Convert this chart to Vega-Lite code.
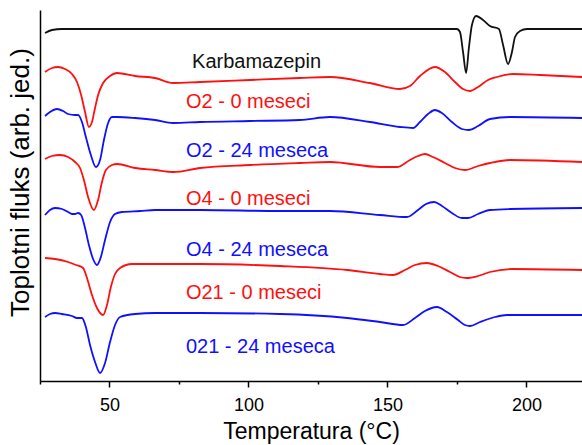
{
  "$schema": "https://vega.github.io/schema/vega-lite/v6.json",
  "width": 542,
  "height": 371,
  "autosize": {"type": "none"},
  "padding": {"left": 40, "top": 10, "right": 0, "bottom": 64},
  "background": "white",
  "config": {"view": {"stroke": null}, "font": "Liberation Sans"},
  "datasets": {
    "curves": [
      {"s": "Karbamazepin", "t": 26.8, "v": 348}, {"s": "Karbamazepin", "t": 29.3, "v": 351}, {"s": "Karbamazepin", "t": 32.9, "v": 352}, {"s": "Karbamazepin", "t": 61.0, "v": 352}, {"s": "Karbamazepin", "t": 118.5, "v": 352}, {"s": "Karbamazepin", "t": 175.0, "v": 352}, {"s": "Karbamazepin", "t": 176.1, "v": 349}, {"s": "Karbamazepin", "t": 177.2, "v": 329}, {"s": "Karbamazepin", "t": 178.3, "v": 308}, {"s": "Karbamazepin", "t": 179.3, "v": 333}, {"s": "Karbamazepin", "t": 180.4, "v": 356}, {"s": "Karbamazepin", "t": 181.9, "v": 365}, {"s": "Karbamazepin", "t": 184.4, "v": 361}, {"s": "Karbamazepin", "t": 186.9, "v": 355}, {"s": "Karbamazepin", "t": 190.1, "v": 352}, {"s": "Karbamazepin", "t": 191.6, "v": 336}, {"s": "Karbamazepin", "t": 193.4, "v": 317}, {"s": "Karbamazepin", "t": 194.8, "v": 329}, {"s": "Karbamazepin", "t": 195.9, "v": 344}, {"s": "Karbamazepin", "t": 197.7, "v": 350}, {"s": "Karbamazepin", "t": 200.2, "v": 352}, {"s": "Karbamazepin", "t": 220.0, "v": 352},

      {"s": "O2 - 0 meseci", "t": 26.8, "v": 309}, {"s": "O2 - 0 meseci", "t": 29.3, "v": 313}, {"s": "O2 - 0 meseci", "t": 31.5, "v": 314}, {"s": "O2 - 0 meseci", "t": 34.0, "v": 312}, {"s": "O2 - 0 meseci", "t": 36.5, "v": 307}, {"s": "O2 - 0 meseci", "t": 38.3, "v": 299}, {"s": "O2 - 0 meseci", "t": 39.8, "v": 286}, {"s": "O2 - 0 meseci", "t": 41.2, "v": 269}, {"s": "O2 - 0 meseci", "t": 42.6, "v": 254}, {"s": "O2 - 0 meseci", "t": 43.7, "v": 259}, {"s": "O2 - 0 meseci", "t": 44.8, "v": 273}, {"s": "O2 - 0 meseci", "t": 45.9, "v": 286}, {"s": "O2 - 0 meseci", "t": 47.7, "v": 298}, {"s": "O2 - 0 meseci", "t": 50.2, "v": 305}, {"s": "O2 - 0 meseci", "t": 52.7, "v": 308}, {"s": "O2 - 0 meseci", "t": 59.2, "v": 305}, {"s": "O2 - 0 meseci", "t": 66.4, "v": 303}, {"s": "O2 - 0 meseci", "t": 72.9, "v": 298}, {"s": "O2 - 0 meseci", "t": 82.6, "v": 299}, {"s": "O2 - 0 meseci", "t": 100.6, "v": 301}, {"s": "O2 - 0 meseci", "t": 118.5, "v": 303}, {"s": "O2 - 0 meseci", "t": 129.3, "v": 304}, {"s": "O2 - 0 meseci", "t": 143.7, "v": 298}, {"s": "O2 - 0 meseci", "t": 154.5, "v": 292}, {"s": "O2 - 0 meseci", "t": 158.1, "v": 295}, {"s": "O2 - 0 meseci", "t": 161.7, "v": 305}, {"s": "O2 - 0 meseci", "t": 167.1, "v": 314}, {"s": "O2 - 0 meseci", "t": 170.7, "v": 309}, {"s": "O2 - 0 meseci", "t": 174.3, "v": 299}, {"s": "O2 - 0 meseci", "t": 177.2, "v": 292}, {"s": "O2 - 0 meseci", "t": 179.7, "v": 290}, {"s": "O2 - 0 meseci", "t": 182.6, "v": 294}, {"s": "O2 - 0 meseci", "t": 186.2, "v": 301}, {"s": "O2 - 0 meseci", "t": 189.4, "v": 304}, {"s": "O2 - 0 meseci", "t": 195.2, "v": 307}, {"s": "O2 - 0 meseci", "t": 204.9, "v": 306}, {"s": "O2 - 0 meseci", "t": 220.0, "v": 304},

      {"s": "O2 - 24 meseca", "t": 26.8, "v": 265}, {"s": "O2 - 24 meseca", "t": 28.6, "v": 269}, {"s": "O2 - 24 meseca", "t": 31.1, "v": 272}, {"s": "O2 - 24 meseca", "t": 33.3, "v": 270}, {"s": "O2 - 24 meseca", "t": 35.1, "v": 267}, {"s": "O2 - 24 meseca", "t": 37.6, "v": 266}, {"s": "O2 - 24 meseca", "t": 38.7, "v": 266}, {"s": "O2 - 24 meseca", "t": 40.1, "v": 259}, {"s": "O2 - 24 meseca", "t": 41.5, "v": 244}, {"s": "O2 - 24 meseca", "t": 43.3, "v": 226}, {"s": "O2 - 24 meseca", "t": 45.1, "v": 214}, {"s": "O2 - 24 meseca", "t": 46.6, "v": 221}, {"s": "O2 - 24 meseca", "t": 48.0, "v": 241}, {"s": "O2 - 24 meseca", "t": 49.5, "v": 258}, {"s": "O2 - 24 meseca", "t": 50.9, "v": 264}, {"s": "O2 - 24 meseca", "t": 52.7, "v": 264}, {"s": "O2 - 24 meseca", "t": 59.2, "v": 263}, {"s": "O2 - 24 meseca", "t": 66.4, "v": 261}, {"s": "O2 - 24 meseca", "t": 72.9, "v": 258}, {"s": "O2 - 24 meseca", "t": 82.6, "v": 259}, {"s": "O2 - 24 meseca", "t": 100.6, "v": 260}, {"s": "O2 - 24 meseca", "t": 118.5, "v": 261}, {"s": "O2 - 24 meseca", "t": 129.3, "v": 264}, {"s": "O2 - 24 meseca", "t": 143.7, "v": 259}, {"s": "O2 - 24 meseca", "t": 154.5, "v": 254}, {"s": "O2 - 24 meseca", "t": 159.2, "v": 253}, {"s": "O2 - 24 meseca", "t": 161.7, "v": 259}, {"s": "O2 - 24 meseca", "t": 164.6, "v": 267}, {"s": "O2 - 24 meseca", "t": 167.1, "v": 271}, {"s": "O2 - 24 meseca", "t": 169.6, "v": 268}, {"s": "O2 - 24 meseca", "t": 173.2, "v": 259}, {"s": "O2 - 24 meseca", "t": 176.8, "v": 252}, {"s": "O2 - 24 meseca", "t": 179.3, "v": 251}, {"s": "O2 - 24 meseca", "t": 182.6, "v": 255}, {"s": "O2 - 24 meseca", "t": 186.9, "v": 262}, {"s": "O2 - 24 meseca", "t": 194.1, "v": 264}, {"s": "O2 - 24 meseca", "t": 220.0, "v": 263},

      {"s": "O4 - 0 meseci", "t": 26.8, "v": 222}, {"s": "O4 - 0 meseci", "t": 29.3, "v": 225}, {"s": "O4 - 0 meseci", "t": 32.2, "v": 226}, {"s": "O4 - 0 meseci", "t": 35.1, "v": 224}, {"s": "O4 - 0 meseci", "t": 37.6, "v": 219}, {"s": "O4 - 0 meseci", "t": 39.4, "v": 213}, {"s": "O4 - 0 meseci", "t": 40.8, "v": 201}, {"s": "O4 - 0 meseci", "t": 42.3, "v": 184}, {"s": "O4 - 0 meseci", "t": 44.4, "v": 171}, {"s": "O4 - 0 meseci", "t": 45.9, "v": 181}, {"s": "O4 - 0 meseci", "t": 47.3, "v": 199}, {"s": "O4 - 0 meseci", "t": 48.7, "v": 211}, {"s": "O4 - 0 meseci", "t": 50.9, "v": 216}, {"s": "O4 - 0 meseci", "t": 52.7, "v": 217}, {"s": "O4 - 0 meseci", "t": 59.2, "v": 213}, {"s": "O4 - 0 meseci", "t": 66.4, "v": 211}, {"s": "O4 - 0 meseci", "t": 72.9, "v": 209}, {"s": "O4 - 0 meseci", "t": 82.6, "v": 213}, {"s": "O4 - 0 meseci", "t": 100.6, "v": 216}, {"s": "O4 - 0 meseci", "t": 118.5, "v": 218}, {"s": "O4 - 0 meseci", "t": 129.3, "v": 219}, {"s": "O4 - 0 meseci", "t": 147.3, "v": 214}, {"s": "O4 - 0 meseci", "t": 153.4, "v": 214}, {"s": "O4 - 0 meseci", "t": 158.1, "v": 221}, {"s": "O4 - 0 meseci", "t": 161.0, "v": 225}, {"s": "O4 - 0 meseci", "t": 163.5, "v": 227}, {"s": "O4 - 0 meseci", "t": 166.4, "v": 224}, {"s": "O4 - 0 meseci", "t": 170.7, "v": 218}, {"s": "O4 - 0 meseci", "t": 174.3, "v": 213}, {"s": "O4 - 0 meseci", "t": 177.9, "v": 211}, {"s": "O4 - 0 meseci", "t": 182.6, "v": 215}, {"s": "O4 - 0 meseci", "t": 186.9, "v": 218}, {"s": "O4 - 0 meseci", "t": 194.1, "v": 221}, {"s": "O4 - 0 meseci", "t": 220.0, "v": 219},

      {"s": "O4 - 24 meseca", "t": 26.8, "v": 166}, {"s": "O4 - 24 meseca", "t": 28.6, "v": 171}, {"s": "O4 - 24 meseca", "t": 30.4, "v": 173}, {"s": "O4 - 24 meseca", "t": 32.9, "v": 172}, {"s": "O4 - 24 meseca", "t": 35.1, "v": 169}, {"s": "O4 - 24 meseca", "t": 36.5, "v": 167}, {"s": "O4 - 24 meseca", "t": 37.6, "v": 167}, {"s": "O4 - 24 meseca", "t": 38.7, "v": 168}, {"s": "O4 - 24 meseca", "t": 39.8, "v": 166}, {"s": "O4 - 24 meseca", "t": 41.2, "v": 153}, {"s": "O4 - 24 meseca", "t": 42.6, "v": 136}, {"s": "O4 - 24 meseca", "t": 44.1, "v": 122}, {"s": "O4 - 24 meseca", "t": 45.5, "v": 116}, {"s": "O4 - 24 meseca", "t": 46.9, "v": 124}, {"s": "O4 - 24 meseca", "t": 48.4, "v": 141}, {"s": "O4 - 24 meseca", "t": 50.2, "v": 159}, {"s": "O4 - 24 meseca", "t": 52.0, "v": 167}, {"s": "O4 - 24 meseca", "t": 54.5, "v": 169}, {"s": "O4 - 24 meseca", "t": 61.0, "v": 170}, {"s": "O4 - 24 meseca", "t": 66.4, "v": 171}, {"s": "O4 - 24 meseca", "t": 82.6, "v": 171}, {"s": "O4 - 24 meseca", "t": 111.3, "v": 170}, {"s": "O4 - 24 meseca", "t": 129.3, "v": 170}, {"s": "O4 - 24 meseca", "t": 147.3, "v": 166}, {"s": "O4 - 24 meseca", "t": 157.0, "v": 164}, {"s": "O4 - 24 meseca", "t": 161.0, "v": 171}, {"s": "O4 - 24 meseca", "t": 163.9, "v": 177}, {"s": "O4 - 24 meseca", "t": 166.8, "v": 179}, {"s": "O4 - 24 meseca", "t": 169.6, "v": 175}, {"s": "O4 - 24 meseca", "t": 173.2, "v": 168}, {"s": "O4 - 24 meseca", "t": 176.8, "v": 163}, {"s": "O4 - 24 meseca", "t": 179.0, "v": 163}, {"s": "O4 - 24 meseca", "t": 182.6, "v": 167}, {"s": "O4 - 24 meseca", "t": 186.9, "v": 171}, {"s": "O4 - 24 meseca", "t": 194.1, "v": 172}, {"s": "O4 - 24 meseca", "t": 220.0, "v": 173},

      {"s": "O21 - 0 meseci", "t": 26.8, "v": 123}, {"s": "O21 - 0 meseci", "t": 30.4, "v": 122}, {"s": "O21 - 0 meseci", "t": 35.1, "v": 119}, {"s": "O21 - 0 meseci", "t": 38.0, "v": 116}, {"s": "O21 - 0 meseci", "t": 40.5, "v": 113}, {"s": "O21 - 0 meseci", "t": 41.9, "v": 103}, {"s": "O21 - 0 meseci", "t": 43.7, "v": 86}, {"s": "O21 - 0 meseci", "t": 45.5, "v": 73}, {"s": "O21 - 0 meseci", "t": 47.7, "v": 66}, {"s": "O21 - 0 meseci", "t": 49.1, "v": 76}, {"s": "O21 - 0 meseci", "t": 50.5, "v": 94}, {"s": "O21 - 0 meseci", "t": 52.0, "v": 107}, {"s": "O21 - 0 meseci", "t": 53.8, "v": 113}, {"s": "O21 - 0 meseci", "t": 58.1, "v": 117}, {"s": "O21 - 0 meseci", "t": 66.4, "v": 117}, {"s": "O21 - 0 meseci", "t": 82.6, "v": 117}, {"s": "O21 - 0 meseci", "t": 111.3, "v": 115}, {"s": "O21 - 0 meseci", "t": 135.5, "v": 111}, {"s": "O21 - 0 meseci", "t": 147.3, "v": 107}, {"s": "O21 - 0 meseci", "t": 152.0, "v": 106}, {"s": "O21 - 0 meseci", "t": 156.3, "v": 111}, {"s": "O21 - 0 meseci", "t": 159.9, "v": 116}, {"s": "O21 - 0 meseci", "t": 164.2, "v": 118}, {"s": "O21 - 0 meseci", "t": 168.2, "v": 115}, {"s": "O21 - 0 meseci", "t": 172.5, "v": 109}, {"s": "O21 - 0 meseci", "t": 176.1, "v": 104}, {"s": "O21 - 0 meseci", "t": 178.6, "v": 103}, {"s": "O21 - 0 meseci", "t": 182.6, "v": 105}, {"s": "O21 - 0 meseci", "t": 186.9, "v": 109}, {"s": "O21 - 0 meseci", "t": 195.2, "v": 112}, {"s": "O21 - 0 meseci", "t": 220.0, "v": 111},

      {"s": "021 - 24 meseca", "t": 26.8, "v": 64}, {"s": "021 - 24 meseca", "t": 28.6, "v": 67}, {"s": "021 - 24 meseca", "t": 30.4, "v": 68}, {"s": "021 - 24 meseca", "t": 32.9, "v": 67}, {"s": "021 - 24 meseca", "t": 36.5, "v": 65}, {"s": "021 - 24 meseca", "t": 38.3, "v": 63}, {"s": "021 - 24 meseca", "t": 40.1, "v": 63}, {"s": "021 - 24 meseca", "t": 41.5, "v": 54}, {"s": "021 - 24 meseca", "t": 43.0, "v": 36}, {"s": "021 - 24 meseca", "t": 44.8, "v": 19}, {"s": "021 - 24 meseca", "t": 46.6, "v": 8}, {"s": "021 - 24 meseca", "t": 48.4, "v": 18}, {"s": "021 - 24 meseca", "t": 50.2, "v": 39}, {"s": "021 - 24 meseca", "t": 52.0, "v": 56}, {"s": "021 - 24 meseca", "t": 53.8, "v": 64}, {"s": "021 - 24 meseca", "t": 59.2, "v": 67}, {"s": "021 - 24 meseca", "t": 66.4, "v": 68}, {"s": "021 - 24 meseca", "t": 82.6, "v": 68}, {"s": "021 - 24 meseca", "t": 111.3, "v": 67}, {"s": "021 - 24 meseca", "t": 135.5, "v": 63}, {"s": "021 - 24 meseca", "t": 147.3, "v": 59}, {"s": "021 - 24 meseca", "t": 155.6, "v": 56}, {"s": "021 - 24 meseca", "t": 159.9, "v": 63}, {"s": "021 - 24 meseca", "t": 163.5, "v": 70}, {"s": "021 - 24 meseca", "t": 167.8, "v": 74}, {"s": "021 - 24 meseca", "t": 171.4, "v": 69}, {"s": "021 - 24 meseca", "t": 175.4, "v": 61}, {"s": "021 - 24 meseca", "t": 177.9, "v": 56}, {"s": "021 - 24 meseca", "t": 179.7, "v": 55}, {"s": "021 - 24 meseca", "t": 183.3, "v": 59}, {"s": "021 - 24 meseca", "t": 188.7, "v": 64}, {"s": "021 - 24 meseca", "t": 193.0, "v": 66}, {"s": "021 - 24 meseca", "t": 220.0, "v": 66}
    ],
    "labels": [
      {"s": "Karbamazepin", "t": 79.7, "v": 313},
      {"s": "O2 - 0 meseci", "t": 77.5, "v": 273},
      {"s": "O2 - 24 meseca", "t": 77.5, "v": 224},
      {"s": "O4 - 0 meseci", "t": 77.5, "v": 176},
      {"s": "O4 - 24 meseca", "t": 77.5, "v": 125},
      {"s": "O21 - 0 meseci", "t": 77.5, "v": 82},
      {"s": "021 - 24 meseca", "t": 77.5, "v": 28}
    ]
  },
  "encoding": {
    "x": {
      "field": "t", "type": "quantitative",
      "scale": {"domain": [25, 220], "nice": false, "zero": false},
      "axis": {
        "title": "Temperatura (°C)",
        "values": [25, 50, 75, 100, 125, 150, 175, 200],
        "labelExpr": "datum.value % 50 === 0 ? datum.label : ''",
        "tickSize": {"condition": {"test": "datum.value % 50 === 0", "value": 6}, "value": 3},
        "tickColor": "black", "tickWidth": 1.5,
        "domainColor": "black", "domainWidth": 1.5,
        "labelFontSize": 18, "labelColor": "black", "labelPadding": 9, "labelFlush": false,
        "titleFontSize": 23, "titleFontWeight": "normal", "titleColor": "black",
        "titleY": 57, "titleBaseline": "alphabetic",
        "grid": false
      }
    },
    "y": {
      "field": "v", "type": "quantitative",
      "scale": {"domain": [0, 371], "nice": false, "zero": false},
      "axis": {
        "title": "Toplotni fluks (arb. jed.)",
        "ticks": false, "labels": false, "grid": false,
        "domainColor": "black", "domainWidth": 1.5,
        "titleFontSize": 26, "titleFontWeight": "normal", "titleColor": "black",
        "titleX": -12, "titleY": 172, "titleBaseline": "alphabetic", "titleAlign": "center", "titleAngle": -90
      }
    },
    "color": {
      "field": "s", "type": "nominal",
      "scale": {
        "domain": ["Karbamazepin", "O2 - 0 meseci", "O2 - 24 meseca", "O4 - 0 meseci", "O4 - 24 meseca", "O21 - 0 meseci", "021 - 24 meseca"],
        "range": ["#111111", "#ff1010", "#1010ff", "#ff1010", "#1010ff", "#ff1010", "#1010ff"]
      },
      "legend": null
    }
  },
  "layer": [
    {
      "data": {"name": "curves"},
      "mark": {"type": "line", "interpolate": "monotone", "strokeWidth": 1.8}
    },
    {
      "data": {"name": "labels"},
      "mark": {"type": "text", "align": "left", "baseline": "alphabetic", "fontSize": 20, "font": "Liberation Sans"},
      "encoding": {"text": {"field": "s"}}
    }
  ]
}
